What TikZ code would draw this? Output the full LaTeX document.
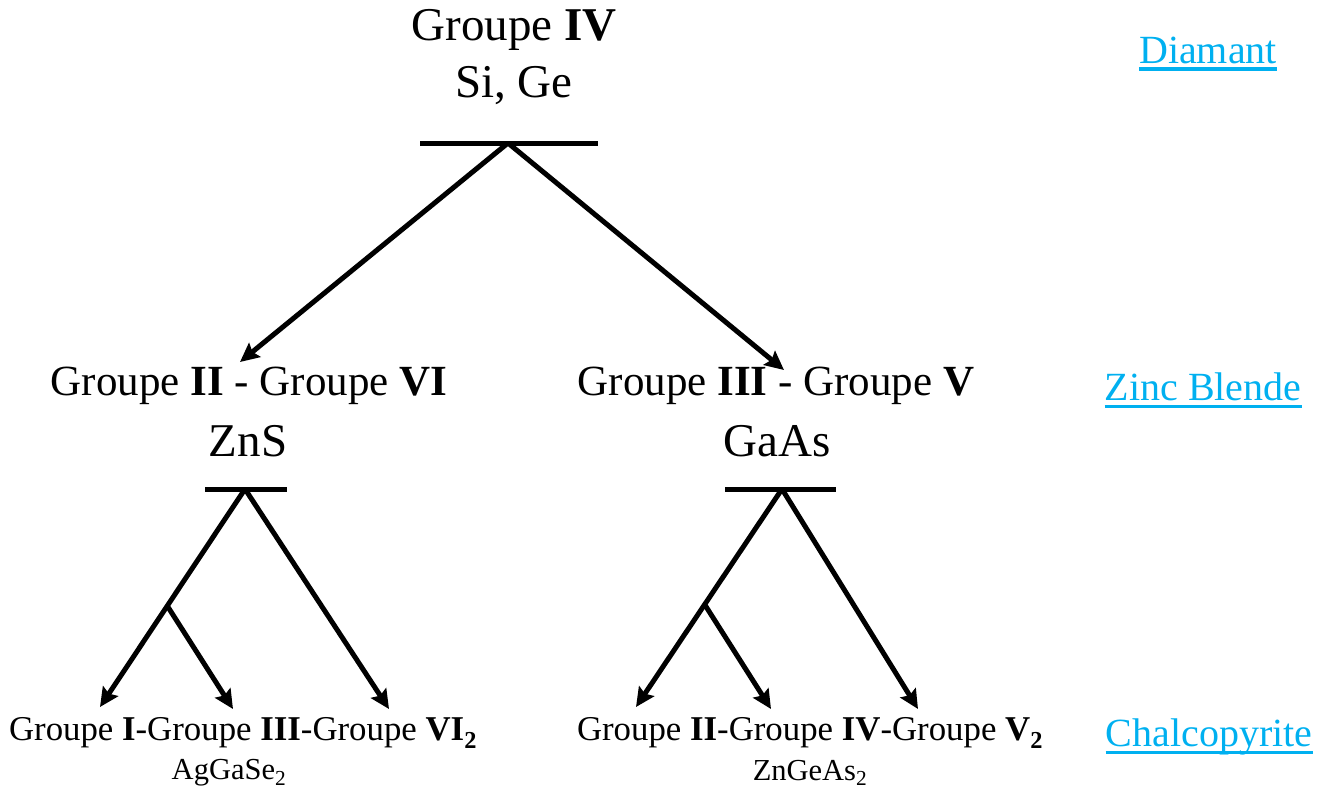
\documentclass[tikz,border=0pt]{standalone}
\usepackage{fontspec}
\setmainfont{Liberation Serif}
\usetikzlibrary{arrows.meta}
\definecolor{linkblue}{HTML}{00B0F0}
\tikzset{
  lbl/.style={inner sep=0pt, anchor=center},
  big/.style={lbl, font=\fontsize{47}{50}\selectfont},
  mid/.style={lbl, font=\fontsize{43}{46}\selectfont},
  small/.style={lbl, font=\fontsize{34.8}{40}\selectfont},
  sub/.style={lbl, font=\fontsize{30.5}{36}\selectfont},
  side/.style={lbl, text=linkblue, font=\fontsize{40}{44}\selectfont},
  uline/.style={draw=linkblue, line width=3.5pt},
  bar/.style={line width=5pt},
  arr/.style={line width=5pt, -{Stealth[length=19pt,width=18pt,inset=3pt]}},
}
\begin{document}
\begin{tikzpicture}[x=1pt,y=-1pt]
\useasboundingbox (0,0) rectangle (1332,793);
% top
\node[big] (t1) at (514,30) {Groupe \textbf{IV}};
\node[big] (t2) at (514,86) {Si, Ge};
\coordinate (tbl) at (420,143);
\coordinate (tbr) at (598,143);
\coordinate (tap) at (508,143);
\draw[bar] (tbl) -- (tbr);
% middle
\node[mid] (l1) at (249,386) {Groupe \textbf{II} - Groupe \textbf{VI}};
\node[big] (l2) at (248,441) {ZnS};
\node[mid] (r1) at (776,386) {Groupe \textbf{III} - Groupe \textbf{V}};
\node[big] (r2) at (777,441) {GaAs};
\coordinate (lin) at (240,362);
\coordinate (rin) at (784,370);
\draw[arr] (tap) -- (lin);
\draw[arr] (tap) -- (rin);
% middle bars
\coordinate (lbl) at (205,489);
\coordinate (lbr) at (287,489);
\coordinate (lap) at (245,489);
\draw[bar] (lbl) -- (lbr);
\coordinate (rbl) at (725,489);
\coordinate (rbr) at (836,489);
\coordinate (rap) at (782,489);
\draw[bar] (rbl) -- (rbr);
% left branches
\coordinate (lj) at (168,607);
\coordinate (la1) at (100,707);
\coordinate (la2) at (233,709);
\coordinate (la3) at (389,709);
\draw[arr] (lap) -- (la1);
\draw[arr] (lj) -- (la2);
\draw[arr] (lap) -- (la3);
% right branches
\coordinate (rj) at (705,605);
\coordinate (ra1) at (636,707);
\coordinate (ra2) at (771,709);
\coordinate (ra3) at (918,709);
\draw[arr] (rap) -- (ra1);
\draw[arr] (rj) -- (ra2);
\draw[arr] (rap) -- (ra3);
% bottom
\node[small] (b1) at (243,733) {Groupe \textbf{I}-Groupe \textbf{III}-Groupe \textbf{VI\textsubscript{2}}};
\node[sub] (b2) at (229,773) {AgGaSe\textsubscript{2}};
\node[small] (b3) at (810,733) {Groupe \textbf{II}-Groupe \textbf{IV}-Groupe \textbf{V\textsubscript{2}}};
\node[sub] (b4) at (810,773) {ZnGeAs\textsubscript{2}};
% side labels
\node[side] (d) at (1208,50) {Diamant};
\node[side] (z) at (1203,387) {Zinc Blende};
\node[side] (c) at (1209,737) {Chalcopyrite};
\foreach \n in {d,z,c}{
  \draw[uline] ([yshift=-6pt]\n.base west) -- ([yshift=-6pt]\n.base east);
}
\end{tikzpicture}
\end{document}
